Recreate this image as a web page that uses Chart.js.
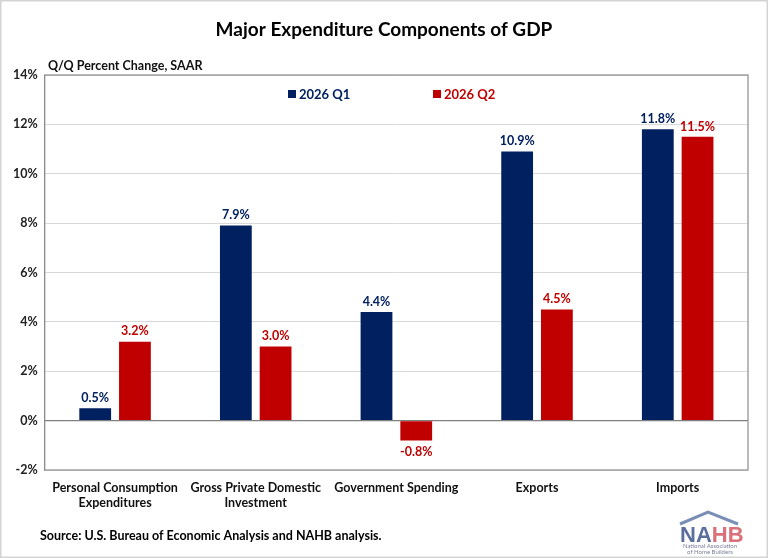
<!DOCTYPE html>
<html>
<head>
<meta charset="utf-8">
<script src="https://cdn.jsdelivr.net/npm/chart.js@4.4.1/dist/chart.umd.min.js"></script>
<style>
html,body{margin:0;padding:0;background:#fff;}
#wrap{width:768px;height:558px;position:relative;}
</style>
</head>
<body>
<div id="wrap"><canvas id="c" width="768" height="558"></canvas></div>
<script>
const categories = [["Personal Consumption","Expenditures"],["Gross Private Domestic","Investment"],["Government Spending"],["Exports"],["Imports"]];
const seriesNames = ["2026 Q1","2026 Q2"];
const q1Values = [0.5, 7.9, 4.4, 10.9, 11.8];
const q2Values = [3.2, 3.0, -0.8, 4.5, 11.5];
const yTicks = [-2, 0, 2, 4, 6, 8, 10, 12, 14];
const titleText = "Major Expenditure Components of GDP";
const subtitleText = "Q/Q Percent Change, SAAR";
const sourceText = "Source: U.S. Bureau of Economic Analysis and NAHB analysis.";

const NAVY = "#002060", RED = "#C00000";
const FONT = "Lato, 'Open Sans', sans-serif";

const extras = {
  id: 'extras',
  afterDraw(chart) {
    const ctx = chart.ctx, a = chart.chartArea;
    ctx.save();
    // outer frame
    ctx.strokeStyle = "#d4d4d4"; ctx.lineWidth = 1.5;
    ctx.strokeRect(0.75, 0.75, 766.5, 556.5);
    // plot frame
    ctx.strokeStyle = "#8c8c8c"; ctx.lineWidth = 1.2;
    ctx.strokeRect(a.left, a.top, a.right - a.left, a.bottom - a.top);
    // title
    ctx.fillStyle = "#000"; ctx.textAlign = "center"; ctx.textBaseline = "middle";
    ctx.font = "bold 19px " + FONT;
    ctx.fillText(titleText, 384, 30);
    // subtitle
    ctx.textAlign = "left"; ctx.font = "bold 12.5px " + FONT; ctx.fillStyle = "#111";
    ctx.fillText(subtitleText, 48, 66);
    // legend
    const legendX = [288, 433], colors = [NAVY, RED];
    ctx.font = "bold 13px " + FONT;
    seriesNames.forEach((n, i) => {
      ctx.fillStyle = colors[i];
      ctx.fillRect(legendX[i], 90, 8, 8);
      ctx.fillText(n, legendX[i] + 11, 94.5);
    });
    // source
    ctx.fillStyle = "#000"; ctx.font = "bold 12.5px " + FONT;
    ctx.fillText(sourceText, 40, 536);
    // logo
    ctx.strokeStyle = "#7a8fb5"; ctx.lineWidth = 3;
    ctx.beginPath(); ctx.moveTo(680, 524); ctx.lineTo(708, 512); ctx.lineTo(738, 524); ctx.stroke();
    ctx.font = "bold 22px 'Liberation Sans', sans-serif"; ctx.textAlign = "left";
    ctx.fillStyle = "#5b6f9c"; ctx.fillText("NA", 680, 536);
    const w = ctx.measureText("NA").width;
    ctx.fillStyle = "#d9707a"; ctx.fillText("HB", 680 + w, 536);
    ctx.font = "6px " + FONT; ctx.fillStyle = "#7a7f99"; ctx.textAlign = "center";
    ctx.fillText("National Association", 710, 546);
    ctx.fillText("of Home Builders", 710, 552);
    ctx.restore();
  }
};

const valueLabels = {
  id: 'valueLabels',
  afterDatasetsDraw(chart) {
    const ctx = chart.ctx;
    ctx.save();
    ctx.font = "bold 12.5px " + FONT; ctx.textAlign = "center";
    chart.data.datasets.forEach((ds, di) => {
      const meta = chart.getDatasetMeta(di);
      meta.data.forEach((bar, i) => {
        const v = ds.data[i];
        ctx.fillStyle = ds.backgroundColor;
        if (v >= 0) { ctx.textBaseline = "bottom"; ctx.fillText(v.toFixed(1) + "%", bar.x, bar.y - 4); }
        else { ctx.textBaseline = "top"; ctx.fillText(v.toFixed(1) + "%", bar.x, bar.y + 5); }
      });
    });
    ctx.restore();
  }
};

new Chart(document.getElementById('c'), {
  type: 'bar',
  data: {
    labels: categories,
    datasets: [
      { label: seriesNames[0], data: q1Values, backgroundColor: NAVY, categoryPercentage: 0.565, barPercentage: 0.8 },
      { label: seriesNames[1], data: q2Values, backgroundColor: RED, categoryPercentage: 0.565, barPercentage: 0.8 }
    ]
  },
  options: {
    responsive: false,
    animation: false,
    devicePixelRatio: 1,
    layout: { padding: { top: 75, right: 20, bottom: 38, left: 6 } },
    plugins: { legend: { display: false }, title: { display: false }, tooltip: { enabled: false } },
    scales: {
      y: {
        min: -2, max: 14,
        afterBuildTicks(scale) { scale.ticks = yTicks.map(v => ({ value: v })); },
        ticks: { callback: v => v + "%", color: "#222", font: { family: FONT, size: 12.5, weight: "bold" }, padding: 7 },
        grid: { color: ctx => ctx.tick && ctx.tick.value === 0 ? "#808080" : "#d9d9d9", lineWidth: ctx => ctx.tick && ctx.tick.value === 0 ? 1.3 : 1, drawTicks: false },
        border: { display: true, color: "#8c8c8c" }
      },
      x: {
        grid: { display: false, drawTicks: false },
        border: { display: false },
        ticks: { color: "#111", font: { family: FONT, size: 12.5, weight: "bold" }, padding: 10, maxRotation: 0, autoSkip: false }
      }
    }
  },
  plugins: [extras, valueLabels]
});
</script>
</body>
</html>
